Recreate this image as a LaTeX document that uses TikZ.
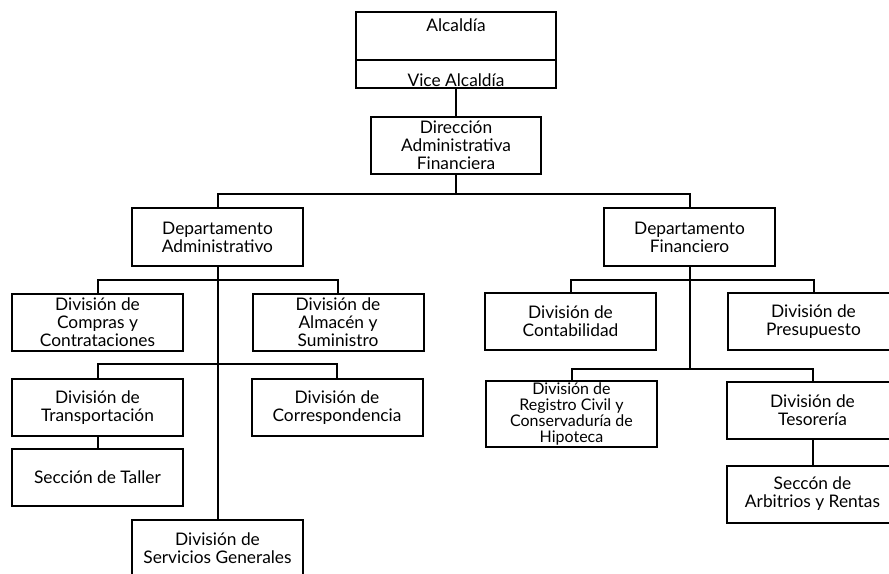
\documentclass[tikz,border=0pt]{standalone}
\usepackage{fontspec}
\setmainfont{Lato}
\begin{document}
\begin{tikzpicture}[x=0.75pt,y=-0.75pt,
  txt/.style={font=\fontsize{13}{13.5}\selectfont},
  box/.style={draw,line width=1.5pt,minimum width=128.25pt,minimum height=42.75pt,
    align=center,inner sep=1pt,txt},
  topbox/.style={box,minimum width=150pt},
  link/.style={line width=1.5pt}]
\useasboundingbox (0,0) rectangle (889,574);
\clip (0,0) rectangle (889,574);
\fill[white] (0,0) rectangle (889,574);
% top
\node[topbox,minimum height=36pt,
  label={[anchor=base,yshift=-15.75pt,txt]north:Alcaldía}] (alc) at (456,36) {};
\node[topbox,minimum height=21pt,
  label={[anchor=base,yshift=1.5pt,txt]south:Vice Alcaldía}] (vice) at (456,74) {};
\node[box,minimum width=127.5pt] (dir) at (456,145.5) {Dirección\\Administrativa\\Financiera};
% departments
\node[box] (da) at (217.5,237) {Departamento\\Administrativo};
\node[box] (df) at (689.5,237) {Departamento\\Financiero};
\coordinate (bar0) at (0,194);
\draw[link] (vice.south) -- (dir.north);
\draw[link] (da.north) |- (dir.south |- bar0) -| (df.north);
\draw[link] (dir.south) -- (dir.south |- bar0);
% left branch
\node[box] (compras) at (97.5,322.5) {División de\\Compras y\\Contrataciones};
\node[box] (almacen) at (338,322.5) {División de\\Almacén y\\Suministro};
\node[box] (transp) at (97.5,407.5) {División de\\Transportación};
\node[box] (corresp) at (337,407.5) {División de\\Correspondencia};
\node[box] (taller) at (97.5,477.5) {Sección de Taller};
\node[box] (serv) at (217.5,548.5) {División de\\Servicios Generales};
\coordinate (bar1) at (0,280);
\coordinate (bar2) at (0,364);
\draw[link] (da.south) -- (serv.north);
\draw[link] (compras.north) |- (da.south |- bar1) -| (almacen.north);
\draw[link] (transp.north) |- (da.south |- bar2) -| (corresp.north);
\draw[link] (transp.south) -- (taller.north);
% right branch
\node[box] (contab) at (570.5,321.5) {División de\\Contabilidad};
\node[box] (presup) at (813.5,321.5) {División de\\Presupuesto};
\node[box,minimum height=48pt,font=\fontsize{12}{12}\selectfont] (registro) at (571.5,414) {División de\\Registro Civil y\\Conservaduría de\\Hipoteca};
\node[box] (tesor) at (812.5,410.5) {División de\\Tesorería};
\node[box] (arbit) at (812.5,494) {Seccón de\\Arbitrios y Rentas};
\coordinate (bar3) at (0,280);
\coordinate (bar4) at (0,369);
\draw[link] (df.south) -- (df.south |- bar4);
\draw[link] (contab.north) |- (df.south |- bar3) -| (presup.north);
\draw[link] (registro.north) |- (df.south |- bar4) -| (tesor.north);
\draw[link] (tesor.south) -- (arbit.north);
\end{tikzpicture}
\end{document}
